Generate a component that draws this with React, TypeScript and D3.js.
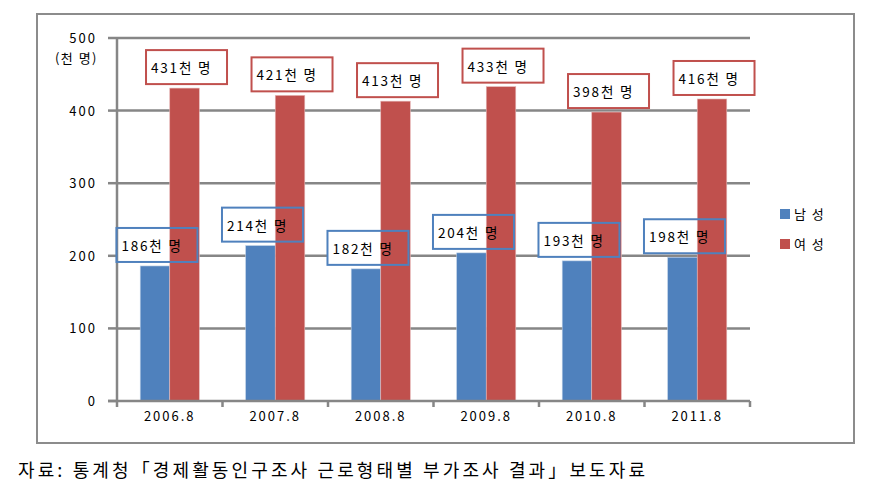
import * as d3 from 'd3';

const years = ['2006.8', '2007.8', '2008.8', '2009.8', '2010.8', '2011.8'];
const male = [186, 214, 182, 204, 193, 198];
const female = [431, 421, 413, 433, 398, 416];
const yTicks = [0, 100, 200, 300, 400, 500];
const seriesNames = ['남 성', '여 성'];
const BLUE = '#4f81bd';
const RED = '#c0504d';
const GRID = '#868686';
const FONT = '"Noto Sans CJK KR", "DejaVu Sans", sans-serif';

const W = 874;
const H = 496;
const PLOT = { left: 117, right: 750, top: 38, bottom: 401 };
const BOX_W = 81;
const BOX_H = 34;

export default function App() {
  const x0 = d3.scaleBand<string>()
    .domain(years)
    .range([PLOT.left, PLOT.right])
    .paddingInner(0.44)
    .paddingOuter(0.22);
  const x1 = d3.scaleBand<string>()
    .domain(['m', 'f'])
    .range([0, x0.bandwidth()]);
  const y = d3.scaleLinear().domain([0, 500]).range([PLOT.bottom, PLOT.top]);
  const step = x0.step();
  const boundaries = d3.range(years.length + 1).map((i) => PLOT.left + i * step);

  const label = (v: number, cx: number, color: string, key: string, layer: 'fill' | 'top') => {
    const bx = cx - BOX_W / 2 + 2;
    const by = y(v) - 4 - BOX_H;
    if (layer === 'fill') {
      return <rect key={key} x={bx} y={by} width={BOX_W} height={BOX_H} fill="#fff" />;
    }
    return (
      <g key={key}>
        <rect x={bx} y={by} width={BOX_W} height={BOX_H} fill="none" stroke={color} strokeWidth={2} />
        <text x={bx + 5} y={by + BOX_H / 2 + 6} fontSize={13.5} letterSpacing={1.8} fill="#000">
          {`${v}천 명`}
        </text>
      </g>
    );
  };

  return (
    <svg width={W} height={H} style={{ position: 'absolute', left: 0, top: 0, fontFamily: FONT }}>
      <rect width={W} height={H} fill="#fff" />
      <rect x={37} y={14} width={817} height={429} fill="#fff" stroke="#8c8c8c" strokeWidth={2} />

      {/* gridlines */}
      {yTicks.filter((t) => t > 0).map((t) => (
        <line key={t} x1={PLOT.left} x2={PLOT.right} y1={y(t)} y2={y(t)} stroke={GRID} strokeWidth={2.5} />
      ))}

      {/* blue label fill sits under the red bars, as in the original */}
      {years.map((yr, i) => label(male[i], (x0(yr) ?? 0) + (x1('m') ?? 0) + x1.bandwidth() / 2, BLUE, `mf${i}`, 'fill'))}

      {/* bars */}
      {years.map((yr, i) => (
        <g key={yr}>
          <rect
            x={(x0(yr) ?? 0) + (x1('m') ?? 0)}
            y={y(male[i])}
            width={x1.bandwidth()}
            height={PLOT.bottom - y(male[i])}
            fill={BLUE}
            stroke="#b9cde5"
            strokeWidth={0.6}
          />
          <rect
            x={(x0(yr) ?? 0) + (x1('f') ?? 0)}
            y={y(female[i])}
            width={x1.bandwidth()}
            height={PLOT.bottom - y(female[i])}
            fill={RED}
            stroke="#e6b9b8"
            strokeWidth={0.6}
          />
        </g>
      ))}

      {/* axes */}
      <line x1={PLOT.left} x2={PLOT.left} y1={PLOT.top} y2={PLOT.bottom} stroke={GRID} strokeWidth={2.5} />
      <line x1={PLOT.left - 9} x2={PLOT.right} y1={PLOT.bottom} y2={PLOT.bottom} stroke={GRID} strokeWidth={2.5} />
      {yTicks.map((t) => (
        <g key={t}>
          <line x1={PLOT.left - 9} x2={PLOT.left} y1={y(t)} y2={y(t)} stroke={GRID} strokeWidth={2.5} />
          <text x={97} y={y(t) + 5} textAnchor="end" fontSize={13} letterSpacing={2} fill="#000">{t}</text>
        </g>
      ))}
      <text x={98} y={63} textAnchor="end" fontSize={13} letterSpacing={1.5} fill="#000">(천 명)</text>
      {boundaries.map((b, i) => (
        <line key={i} x1={b} x2={b} y1={PLOT.bottom} y2={PLOT.bottom + 6} stroke={GRID} strokeWidth={2.5} />
      ))}
      {years.map((yr) => (
        <text
          key={yr}
          x={(x0(yr) ?? 0) + x0.bandwidth() / 2}
          y={421}
          textAnchor="middle"
          fontSize={13}
          letterSpacing={2}
          fill="#000"
        >
          {yr}
        </text>
      ))}

      {/* data labels */}
      {years.map((yr, i) => label(male[i], (x0(yr) ?? 0) + (x1('m') ?? 0) + x1.bandwidth() / 2, BLUE, `mt${i}`, 'top'))}
      {years.map((yr, i) => (
        <g key={`f${i}`}>
          {label(female[i], (x0(yr) ?? 0) + (x1('f') ?? 0) + x1.bandwidth() / 2, RED, `ff${i}`, 'fill')}
          {label(female[i], (x0(yr) ?? 0) + (x1('f') ?? 0) + x1.bandwidth() / 2, RED, `ft${i}`, 'top')}
        </g>
      ))}

      {/* legend */}
      {seriesNames.map((s, i) => (
        <g key={s} transform={`translate(780,${209 + i * 30})`}>
          <rect width={10} height={10} fill={i === 0 ? BLUE : RED} />
          <text x={14} y={10} fontSize={13} letterSpacing={1.5} fill="#000">{s}</text>
        </g>
      ))}

      <text x={18} y={477} fontSize={18} textLength={627} lengthAdjust="spacing" fill="#000">
        자료: 통계청「경제활동인구조사 근로형태별 부가조사 결과」보도자료
      </text>
    </svg>
  );
}
